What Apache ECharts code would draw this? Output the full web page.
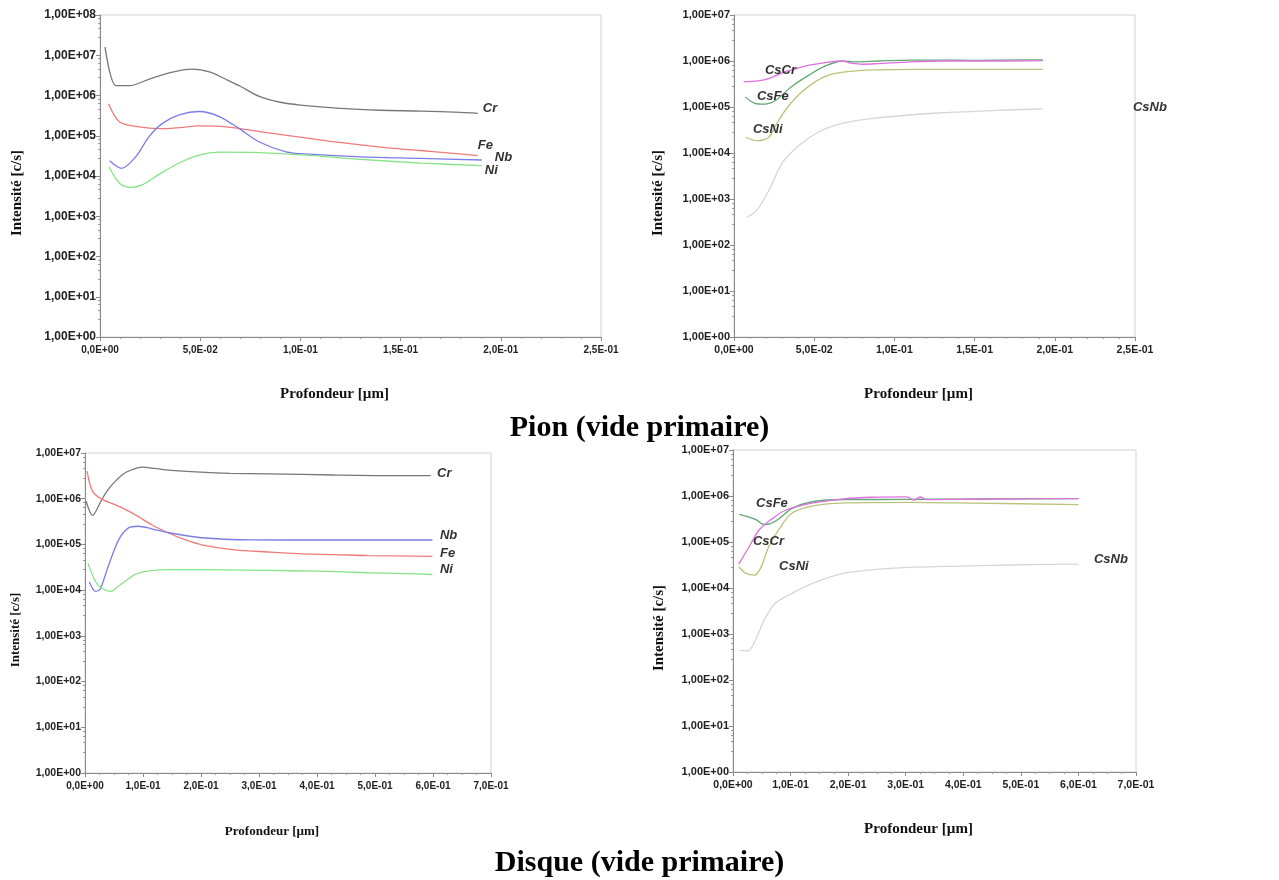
<!DOCTYPE html>
<html><head><meta charset="utf-8">
<script src="https://cdn.jsdelivr.net/npm/echarts@6/dist/echarts.min.js"></script>
<style>html,body{margin:0;padding:0;background:#fff}#c{width:1279px;height:880px}</style>
</head><body><div id="c"></div>
<script>
// ---------- Panel 1 : Pion, elements ----------
const p1_cr_x = [0.0025,0.008,0.0145,0.025,0.035,0.046,0.055,0.063,0.07,0.0795,0.09,0.1,0.12,0.14,0.16,0.18,0.1885];
const p1_cr_y = [1.6e7,1.75e6,1.75e6,2.6e6,3.7e6,4.5e6,3.8e6,2.5e6,1.7e6,9.5e5,6.8e5,5.8e5,4.8e5,4.3e5,4.1e5,3.8e5,3.6e5];
const p1_fe_x = [0.0042,0.0098,0.0195,0.0295,0.04,0.0495,0.063,0.0795,0.096,0.113,0.13,0.145,0.16,0.175,0.1885];
const p1_fe_y = [6.2e5,2.2e5,1.66e5,1.5e5,1.6e5,1.75e5,1.66e5,1.27e5,9.8e4,7.5e4,5.9e4,4.9e4,4.3e4,3.7e4,3.2e4];
const p1_nb_x = [0.0048,0.0108,0.0178,0.0245,0.031,0.0395,0.0495,0.0595,0.0695,0.0795,0.0928,0.1045,0.13,0.16,0.1905];
const p1_nb_y = [2.4e4,1.55e4,3e4,9.5e4,2e5,3.3e5,4e5,3e5,1.5e5,7e4,4e4,3.5e4,3e4,2.75e4,2.5e4];
const p1_ni_x = [0.0045,0.0098,0.0153,0.021,0.0295,0.0395,0.0495,0.0595,0.0795,0.103,0.13,0.16,0.1905];
const p1_ni_y = [1.7e4,6.6e3,5.2e3,6e3,1.1e4,2.1e4,3.3e4,3.9e4,3.8e4,3.3e4,2.6e4,2.1e4,1.8e4];

// ---------- Panel 2 : Pion, Cs clusters ----------
const p2_cscr_x = [0.006,0.015,0.022,0.032,0.04,0.047,0.059,0.067,0.073,0.08,0.09,0.11,0.13,0.15,0.17,0.1925];
const p2_cscr_y = [3.5e5,3.7e5,4.2e5,5.9e5,7e5,8.1e5,9.5e5,1.0e6,9e5,8.5e5,8.8e5,9.6e5,1e6,1e6,1e6,1.02e6];
const p2_csfe_x = [0.007,0.013,0.019,0.026,0.036,0.047,0.057,0.0675,0.075,0.09,0.11,0.13,0.15,0.17,0.1925];
const p2_csfe_y = [1.66e5,1.2e5,1.15e5,1.4e5,2.8e5,5e5,7.8e5,1.0e6,9.6e5,1.0e6,1.05e6,1.05e6,1.03e6,1.05e6,1.06e6];
const p2_csni_x = [0.007,0.0144,0.0217,0.026,0.032,0.04,0.051,0.061,0.078,0.1,0.13,0.16,0.1925];
const p2_csni_y = [2.2e4,1.85e4,2.2e4,4e4,8.5e4,1.8e5,3.6e5,5.2e5,6.2e5,6.5e5,6.6e5,6.6e5,6.6e5];
const p2_csnb_x = [0.008,0.0144,0.022,0.03,0.04,0.053,0.0675,0.088,0.109,0.13,0.15,0.17,0.1925];
const p2_csnb_y = [4e2,5.8e2,1.6e3,6e3,1.4e4,2.9e4,4.4e4,5.7e4,6.7e4,7.5e4,8e4,8.6e4,9.1e4];

// ---------- Panel 3 : Disque, elements ----------
const p3_cr_x = [0.002,0.013,0.029,0.04,0.052,0.065,0.075,0.098,0.12,0.144,0.2,0.25,0.316,0.43,0.52,0.596];
const p3_cr_y = [8.8e5,4.3e5,9.6e5,1.6e6,2.4e6,3.4e6,4e6,4.9e6,4.6e6,4.2e6,3.8e6,3.6e6,3.5e6,3.3e6,3.2e6,3.2e6];
const p3_fe_x = [0.0035,0.013,0.029,0.052,0.086,0.115,0.144,0.17,0.201,0.258,0.32,0.373,0.43,0.487,0.599];
const p3_fe_y = [4e6,1.45e6,9.8e5,7.4e5,4.5e5,2.7e5,1.78e5,1.3e5,9.8e4,7.6e4,6.8e4,6.2e4,6e4,5.7e4,5.5e4];
const p3_nb_x = [0.0075,0.018,0.026,0.04,0.058,0.075,0.092,0.115,0.144,0.201,0.287,0.4,0.5,0.599];
const p3_nb_y = [1.5e4,9.4e3,1.05e4,3.3e4,1.26e5,2.3e5,2.5e5,2.2e5,1.8e5,1.4e5,1.26e5,1.25e5,1.25e5,1.25e5];
const p3_ni_x = [0.005,0.018,0.029,0.0435,0.0636,0.092,0.144,0.2,0.316,0.4,0.487,0.55,0.599];
const p3_ni_y = [3.9e4,1.55e4,1.1e4,9.4e3,1.4e4,2.35e4,2.8e4,2.8e4,2.7e4,2.6e4,2.4e4,2.3e4,2.2e4];

// ---------- Panel 4 : Disque, Cs clusters ----------
const p4_csfe_x = [0.011,0.039,0.054,0.065,0.08,0.102,0.137,0.194,0.251,0.35,0.45,0.6];
const p4_csfe_y = [4e5,3.1e5,2.4e5,2.5e5,3.2e5,5.3e5,7.5e5,8.4e5,8.4e5,8.5e5,8.6e5,8.8e5];
const p4_cscr_x = [0.01,0.028,0.045,0.065,0.091,0.137,0.194,0.24,0.302,0.314,0.325,0.337,0.4,0.5,0.6];
const p4_cscr_y = [3.3e4,7.9e4,1.8e5,3e5,4.9e5,7e5,8.7e5,9.4e5,9.6e5,8.1e5,9.5e5,8.3e5,8.5e5,8.7e5,8.8e5];
const p4_csni_x = [0.01,0.022,0.037,0.048,0.062,0.08,0.102,0.137,0.194,0.308,0.42,0.6];
const p4_csni_y = [2.9e4,2.1e4,1.9e4,2.7e4,7.9e4,1.9e5,4.2e5,6e5,7.1e5,7.3e5,7e5,6.5e5];
const p4_csnb_x = [0.011,0.026,0.039,0.054,0.073,0.102,0.137,0.194,0.28,0.395,0.5,0.6];
const p4_csnb_y = [4.4e2,4.3e2,7.4e2,2e3,4.6e3,7.6e3,1.25e4,2.1e4,2.7e4,3e4,3.2e4,3.3e4];

// ---------- texts ----------
const panelTitles = ['Pion (vide primaire)', 'Disque (vide primaire)'];
const xTitle = 'Profondeur [µm]';
const yTitle = 'Intensité [c/s]';
// curve labels: [name, x, y] in data units
const p1_labels = [['Cr',0.191,4.9e5],['Fe',0.1885,5.9e4],['Nb',0.197,2.95e4],['Ni',0.192,1.4e4]];
const p2_labels = [['CsCr',0.0193,6.3e5],['CsFe',0.0143,1.66e5],['CsNi',0.0118,3.2e4],['CsNb',0.2487,1.0e5]];
const p3_labels = [['Cr',0.607,3.5e6],['Nb',0.612,1.6e5],['Fe',0.612,6.4e4],['Ni',0.612,2.8e4]];
const p4_labels = [['CsFe',0.04,7e5],['CsCr',0.0347,1.05e5],['CsNi',0.08,3e4],['CsNb',0.627,4.1e4]];

const COL = {Cr:'#777777', Fe:'#f07a7a', Nb:'#7c7ce8', Ni:'#86e486',
             CsCr:'#e070e0', CsFe:'#62a874', CsNi:'#bcc27a', CsNb:'#d6d6d6'};

function zip(xs, ys){ return xs.map((x,i)=>[x, ys[i]]); }
function fmtY(v){ const e = Math.round(Math.log10(v)); return '1,00E' + (e<0?'-':'+') + String(Math.abs(e)).padStart(2,'0'); }
function fmtX(v){
  if (Math.abs(v) < 1e-12) return '0,0E+00';
  const s = v.toExponential(1).split('e'); const n = parseInt(s[1],10);
  return s[0].replace('.',',') + 'E' + (n<0?'-':'+') + String(Math.abs(n)).padStart(2,'0');
}

const grids = [
  {left:100, top:15, width:501, height:322},
  {left:734, top:15, width:401, height:322},
  {left:85, top:453, width:406, height:320},
  {left:733, top:450, width:403, height:322}
];
const xMax = [0.25,0.25,0.7,0.7], xInt = [0.05,0.05,0.1,0.1], yMax = [1e8,1e7,1e7,1e7];
const xMinorSplit = [5,5,4,4];
const yNameGap = [75,68,63,66];
const xNameGap = [50,50,52,50];
const nameSize = [15,15,13,15];
const yLblSize = [12,11,10.5,11];
const xLblSize = [10,10.5,10,10.5];

const xAxis = grids.map((g,i)=>({
  type:'value', gridIndex:i, min:0, max:xMax[i], interval:xInt[i],
  name:xTitle, nameLocation:'middle', nameGap:xNameGap[i],
  nameTextStyle:{fontFamily:'Liberation Serif', fontWeight:'bold', fontSize:nameSize[i], color:'#111', padding:[0,32,0,0]},
  axisLine:{show:true, lineStyle:{color:'#8a8a8a', width:1}},
  axisTick:{show:true, length:4, lineStyle:{color:'#8a8a8a'}},
  minorTick:{show:true, splitNumber:xMinorSplit[i], length:2, lineStyle:{color:'#9a9a9a'}},
  splitLine:{show:false},
  axisLabel:{formatter:fmtX, margin:8, fontFamily:'Liberation Sans', fontWeight:'bold', fontSize:xLblSize[i], color:'#222'}
}));
const yAxis = grids.map((g,i)=>({
  type:'log', logBase:10, gridIndex:i, min:1, max:yMax[i], interval:1,
  name:yTitle, nameLocation:'middle', nameGap:yNameGap[i],
  nameTextStyle:{fontFamily:'Liberation Serif', fontWeight:'bold', fontSize:nameSize[i], color:'#111', padding:[0,34,0,0]},
  axisLine:{show:true, lineStyle:{color:'#8a8a8a', width:1}},
  axisTick:{show:true, length:4, lineStyle:{color:'#8a8a8a'}},
  minorTick:{show:true, splitNumber:5, length:2, lineStyle:{color:'#9a9a9a'}},
  splitLine:{show:false},
  axisLabel:{formatter:fmtY, margin:4, fontFamily:'Liberation Sans', fontWeight:'bold', fontSize:yLblSize[i], color:'#222'}
}));

const series = [];
function addSeries(panel, name, xs, ys, lbl){
  const s = {
    type:'line', name:name, xAxisIndex:panel, yAxisIndex:panel,
    data:zip(xs,ys), showSymbol:false, symbol:'none', smooth:0.3,
    lineStyle:{color:COL[name], width:1.3}, itemStyle:{color:COL[name]}, z:3, silent:true
  };
  if (lbl){
    s.markPoint = {
      symbol:'circle', symbolSize:0, silent:true, animation:false,
      label:{show:true, position:'right', distance:0, formatter:name,
             fontFamily:'Liberation Sans', fontWeight:'bold', fontStyle:'italic', fontSize:13, color:'#333'},
      data:[{coord:[lbl[1], lbl[2]]}]
    };
  }
  series.push(s);
}
function lab(arr, n){ return arr.find(a=>a[0]===n); }

addSeries(0,'Cr',p1_cr_x,p1_cr_y,lab(p1_labels,'Cr'));
addSeries(0,'Fe',p1_fe_x,p1_fe_y,lab(p1_labels,'Fe'));
addSeries(0,'Nb',p1_nb_x,p1_nb_y,lab(p1_labels,'Nb'));
addSeries(0,'Ni',p1_ni_x,p1_ni_y,lab(p1_labels,'Ni'));

addSeries(1,'CsNb',p2_csnb_x,p2_csnb_y,lab(p2_labels,'CsNb'));
addSeries(1,'CsNi',p2_csni_x,p2_csni_y,lab(p2_labels,'CsNi'));
addSeries(1,'CsFe',p2_csfe_x,p2_csfe_y,lab(p2_labels,'CsFe'));
addSeries(1,'CsCr',p2_cscr_x,p2_cscr_y,lab(p2_labels,'CsCr'));

addSeries(2,'Cr',p3_cr_x,p3_cr_y,lab(p3_labels,'Cr'));
addSeries(2,'Fe',p3_fe_x,p3_fe_y,lab(p3_labels,'Fe'));
addSeries(2,'Nb',p3_nb_x,p3_nb_y,lab(p3_labels,'Nb'));
addSeries(2,'Ni',p3_ni_x,p3_ni_y,lab(p3_labels,'Ni'));

addSeries(3,'CsNb',p4_csnb_x,p4_csnb_y,lab(p4_labels,'CsNb'));
addSeries(3,'CsNi',p4_csni_x,p4_csni_y,lab(p4_labels,'CsNi'));
addSeries(3,'CsFe',p4_csfe_x,p4_csfe_y,lab(p4_labels,'CsFe'));
addSeries(3,'CsCr',p4_cscr_x,p4_cscr_y,lab(p4_labels,'CsCr'));

const chart = echarts.init(document.getElementById('c'), null, {renderer:'canvas'});
chart.setOption({
  backgroundColor:'#ffffff',
  animation:false,
  title:[
    {text:panelTitles[0], left:'center', top:408, textStyle:{fontFamily:'Liberation Serif', fontWeight:'bold', fontSize:30, color:'#000'}},
    {text:panelTitles[1], left:'center', top:843, textStyle:{fontFamily:'Liberation Serif', fontWeight:'bold', fontSize:30, color:'#000'}}
  ],
  grid:grids.map(g=>Object.assign({show:true, borderColor:'#d2d2d2', borderWidth:1, backgroundColor:'#fff', containLabel:false}, g)),
  xAxis:xAxis, yAxis:yAxis, series:series
});
</script></body></html>
